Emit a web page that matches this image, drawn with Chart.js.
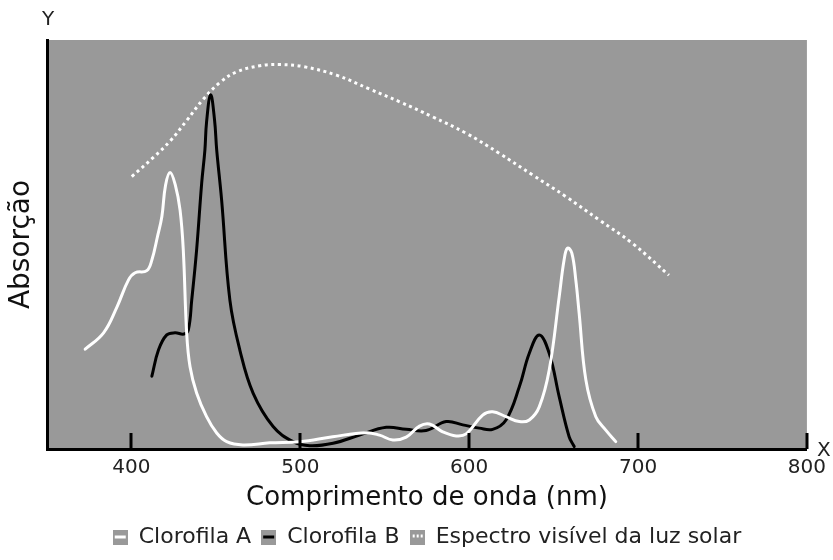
<!DOCTYPE html>
<html>
<head>
<meta charset="utf-8">
<script src="https://cdn.jsdelivr.net/npm/chart.js@4.4.0/dist/chart.umd.min.js"></script>
<style>
  html, body { margin: 0; padding: 0; background: #fff; }
</style>
</head>
<body>
<canvas id="absChart" width="833" height="560"></canvas>
<script>
// Dados (comprimento de onda em nm, absorção relativa 0-100)
const chlAWave = [372.6, 383.5, 391.4, 398.2, 402.2, 409.1, 412.1, 415.4, 418.0, 420.2, 422.9, 426.0, 428.8, 430.7, 432.7, 434.7, 438.6, 444.5, 450.5, 456.4, 466.0, 481.9, 499.7, 519.2, 539.1, 546.9, 554.8, 562.7, 570.6, 576.5, 584.3, 592.3, 598.2, 608.0, 613.9, 621.8, 629.7, 635.6, 641.5, 647.4, 653.3, 656.2, 658.2, 660.8, 663.2, 665.1, 669.1, 675.0, 680.9, 686.8];
const chlAValues = [24.4, 28.4, 34.7, 41.3, 43.1, 43.6, 46.2, 51.9, 56.8, 64.5, 67.6, 64.5, 58.4, 48.7, 28.4, 20.1, 13.7, 7.9, 3.9, 1.8, 1.0, 1.5, 1.8, 3.0, 4.0, 3.4, 2.2, 2.9, 5.6, 6.1, 4.2, 3.2, 3.7, 8.3, 9.1, 7.9, 6.7, 7.1, 10.3, 19.3, 37.2, 46.2, 49.1, 47.9, 41.1, 33.3, 16.9, 7.9, 4.6, 1.8];

const chlBWave = [412.1, 416.0, 420.9, 425.8, 431.1, 433.7, 435.7, 438.6, 441.6, 443.5, 444.5, 446.9, 449.2, 450.5, 453.4, 458.3, 464.2, 472.1, 483.9, 495.7, 505.6, 519.4, 535.1, 550.9, 562.7, 574.5, 586.4, 596.2, 606.0, 613.9, 621.8, 629.7, 635.6, 641.5, 647.4, 653.3, 659.2, 662.2];
const chlBValues = [17.8, 24.2, 27.9, 28.4, 28.1, 29.1, 36.4, 48.7, 65.0, 73.1, 80.0, 86.6, 80.5, 73.1, 60.9, 36.4, 24.2, 13.6, 5.5, 1.8, 0.8, 1.4, 3.4, 5.3, 4.8, 4.5, 6.7, 5.9, 5.1, 4.8, 7.1, 15.2, 23.4, 27.9, 23.4, 12.8, 3.0, 0.6];

const sunWave = [400.2, 413.0, 422.9, 432.7, 442.5, 452.4, 462.3, 476.0, 487.9, 501.7, 521.4, 541.0, 558.8, 578.4, 598.2, 617.8, 637.5, 657.3, 677.0, 696.6, 718.3];
const sunValues = [66.6, 71.3, 75.3, 80.3, 85.5, 89.6, 92.2, 93.7, 94.0, 93.5, 91.4, 88.0, 84.9, 81.2, 77.2, 72.3, 67.0, 61.7, 56.0, 50.3, 42.5];

const xTicks = [400, 500, 600, 700, 800];
const seriesNames = ['Clorofila A', 'Clorofila B', 'Espectro visível da luz solar'];

const PLOT_GRAY = '#999999';
const FONT = "'DejaVu Sans', Verdana, sans-serif";

function toPoints(xs, ys) {
    return xs.map((x, i) => ({ x: x, y: ys[i] }));
}

function legendSwatch(color, dotted) {
    const c = document.createElement('canvas');
    c.width = 15;
    c.height = 15;
    const g = c.getContext('2d');
    g.fillStyle = PLOT_GRAY;
    g.fillRect(0, 0, 15, 15);
    g.strokeStyle = color;
    g.lineWidth = 3;
    if (dotted) {
        g.setLineDash([2, 2]);
        g.beginPath();
        g.moveTo(3, 6.5);
        g.lineTo(13, 6.5);
        g.stroke();
    } else {
        g.beginPath();
        g.moveTo(2, 7.5);
        g.lineTo(13, 7.5);
        g.stroke();
    }
    return c;
}

const swatches = [legendSwatch('#ffffff', false), legendSwatch('#000000', false), legendSwatch('#ffffff', true)];

// fundo cinza da área do gráfico
const plotBackground = {
    id: 'plotBackground',
    beforeDraw(chart) {
        const { ctx, chartArea } = chart;
        ctx.save();
        ctx.fillStyle = PLOT_GRAY;
        ctx.fillRect(chartArea.left, chartArea.top, chartArea.right - chartArea.left, chartArea.bottom - chartArea.top);
        ctx.restore();
    }
};

// marcas dos ticks para dentro e rótulos X / Y
const axisExtras = {
    id: 'axisExtras',
    afterDraw(chart) {
        const { ctx, chartArea } = chart;
        const xScale = chart.scales.x;
        ctx.save();
        ctx.strokeStyle = '#000';
        ctx.lineWidth = 3;
        xTicks.forEach(v => {
            const px = Math.round(xScale.getPixelForValue(v));
            ctx.beginPath();
            ctx.moveTo(px, chartArea.bottom);
            ctx.lineTo(px, chartArea.bottom - 16);
            ctx.stroke();
        });
        ctx.fillStyle = '#222';
        ctx.font = '20px ' + FONT;
        ctx.textAlign = 'center';
        ctx.textBaseline = 'middle';
        ctx.fillText('Y', chartArea.left + 1, 20);
        ctx.fillText('X', chartArea.right + 17, chartArea.bottom + 2);
        ctx.restore();
    }
};

const ctx = document.getElementById('absChart').getContext('2d');

new Chart(ctx, {
    type: 'line',
    data: {
        datasets: [{
            label: seriesNames[0],
            data: toPoints(chlAWave, chlAValues),
            borderColor: '#ffffff',
            borderWidth: 3,
            borderCapStyle: 'round',
            borderJoinStyle: 'round',
            tension: 0.4,
            pointRadius: 0
        }, {
            label: seriesNames[1],
            data: toPoints(chlBWave, chlBValues),
            borderColor: '#000000',
            borderWidth: 3,
            borderCapStyle: 'round',
            borderJoinStyle: 'round',
            tension: 0.4,
            pointRadius: 0
        }, {
            label: seriesNames[2],
            data: toPoints(sunWave, sunValues),
            borderColor: '#ffffff',
            borderWidth: 3,
            borderDash: [3, 3.6],
            tension: 0.4,
            pointRadius: 0
        }]
    },
    options: {
        responsive: false,
        animation: false,
        layout: {
            padding: { top: 40, left: 0, right: 25, bottom: 2 }
        },
        plugins: {
            tooltip: { enabled: false },
            legend: {
                position: 'bottom',
                fullSize: false,
                labels: {
                    usePointStyle: true,
                    boxWidth: 15,
                    boxHeight: 15,
                    padding: 10,
                    color: '#222',
                    font: { family: FONT, size: 22 },
                    generateLabels: function(chart) {
                        const items = Chart.defaults.plugins.legend.labels.generateLabels(chart);
                        items.forEach((item, i) => {
                            item.pointStyle = swatches[i];
                            item.lineWidth = 0;
                        });
                        return items;
                    }
                }
            }
        },
        scales: {
            x: {
                type: 'linear',
                min: 350,
                max: 800,
                afterBuildTicks: function(scale) {
                    scale.ticks = xTicks.map(v => ({ value: v }));
                },
                afterFit: function(scale) {
                    scale.height = 67;
                },
                grid: {
                    display: true,
                    drawOnChartArea: false,
                    drawTicks: false
                },
                border: {
                    display: true,
                    color: '#000',
                    width: 3
                },
                ticks: {
                    padding: 7,
                    color: '#222',
                    font: { family: FONT, size: 20 }
                },
                title: {
                    display: true,
                    text: 'Comprimento de onda (nm)',
                    color: '#111',
                    font: { family: FONT, size: 26 },
                    padding: { top: 0, bottom: 2 }
                }
            },
            y: {
                min: 0,
                max: 100,
                afterFit: function(scale) {
                    scale.width = 47;
                },
                grid: {
                    display: false
                },
                border: {
                    display: true,
                    color: '#000',
                    width: 3
                },
                ticks: {
                    display: false
                },
                title: {
                    display: true,
                    text: 'Absorção',
                    color: '#111',
                    font: { family: FONT, size: 28 },
                    padding: { top: 5, bottom: 0 }
                }
            }
        }
    },
    plugins: [plotBackground, axisExtras]
});
</script>
</body>
</html>
